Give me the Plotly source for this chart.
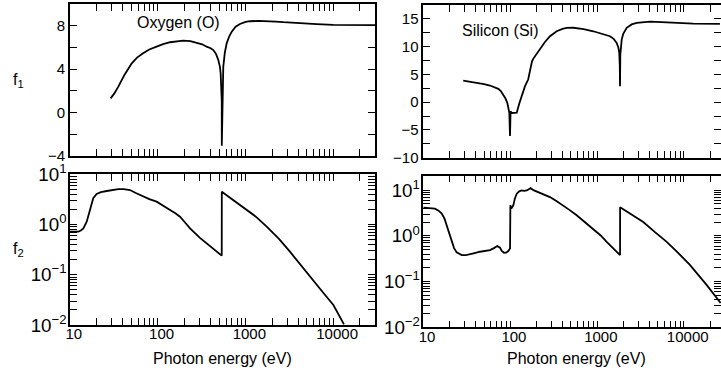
import plotly.graph_objects as go

# ---------------- data ----------------
o_f1_E = [29, 32, 35.5, 42, 50.5, 58, 68, 80, 97, 115, 138, 165, 195, 235, 277, 320, 360, 400, 429, 460, 489, 510, 520, 530, 535, 536, 545, 557, 580, 609, 650, 695, 770, 863, 1000, 1125, 1400, 1740, 2200, 2700, 4000, 6450, 10000, 15500, 30000]
o_f1_v = [1.29, 1.75, 2.37, 3.5, 4.53, 5.05, 5.45, 5.8, 6.06, 6.3, 6.47, 6.58, 6.62, 6.58, 6.43, 6.28, 6.06, 5.92, 5.75, 5.4, 4.83, 4.2, 3.6, 2.5, 1.1, -3.08, 3.0, 4.2, 5.5, 6.37, 7.0, 7.45, 7.9, 8.16, 8.35, 8.41, 8.44, 8.43, 8.38, 8.32, 8.22, 8.14, 8.08, 8.06, 8.05]

o_f2_E = [10, 11, 12.4, 13.3, 14.2, 15.5, 16.9, 18.4, 20.1, 22.5, 26.2, 30, 35.5, 41, 48.2, 57, 68, 80, 97, 115, 138, 160, 179, 200, 233, 300, 400, 511, 535, 536, 700, 942, 1300, 1740, 2400, 3200, 4300, 5900, 8000, 10000, 13200]
o_f2_v = [0.72, 0.71, 0.72, 0.76, 0.84, 1.14, 2.1, 3.33, 4.05, 4.4, 4.65, 4.85, 5.09, 5.05, 4.86, 4.2, 3.58, 3.2, 2.85, 2.4, 1.95, 1.65, 1.43, 1.15, 0.84, 0.55, 0.36, 0.247, 0.24, 4.5, 3.2, 2.26, 1.45, 0.906, 0.52, 0.288, 0.155, 0.0787, 0.04, 0.025, 0.0103]

si_f1_E = [28.8, 35, 41, 50, 58.6, 66, 73, 78, 83.3, 88, 92.6, 95, 97.7, 99.5, 101, 104, 110, 119, 127, 135, 148, 161, 167, 172, 178, 184, 200, 220, 250, 287, 343, 400, 447, 532, 700, 904, 1150, 1406, 1550, 1680, 1760, 1800, 1825, 1836, 1850, 1920, 2000, 2190, 2500, 2855, 3400, 4070, 5500, 8250, 12800, 25900]
si_f1_v = [3.9, 3.7, 3.49, 3.25, 3.0, 2.75, 2.41, 2.0, 1.38, 0.7, -0.1, -0.8, -1.9, -6.1, -1.62, -1.95, -1.95, -1.9, -0.3, 1.08, 2.88, 4.08, 5.5, 6.47, 7.3, 7.8, 8.6, 9.48, 10.8, 11.87, 12.77, 13.2, 13.38, 13.4, 13.15, 12.77, 12.35, 11.87, 11.4, 10.68, 9.8, 8.88, 6.5, 2.88, 8.5, 11.28, 12.3, 13.38, 14.0, 14.28, 14.45, 14.5, 14.42, 14.28, 14.15, 14.1]

si_f2_E = [10, 12, 13.6, 15, 16.3, 17.5, 18.6, 20, 21.2, 22.6, 24.2, 27.7, 31, 34.5, 39, 44.9, 52, 58.6, 65, 71, 76.4, 80, 84.9, 90, 95, 99.6, 100.5, 103, 108.6, 113, 119, 127, 135, 145, 155, 164, 172, 185, 202, 240, 287, 340, 408, 480, 582, 720, 904, 1100, 1290, 1550, 1838, 1840, 2500, 3400, 4600, 6330, 8500, 11700, 18200, 26400]
si_f2_v = [4.14, 4.1, 3.94, 3.55, 3.07, 2.4, 1.71, 1.05, 0.74, 0.54, 0.435, 0.38, 0.38, 0.394, 0.42, 0.449, 0.465, 0.489, 0.54, 0.597, 0.55, 0.47, 0.427, 0.43, 0.465, 0.532, 4.65, 3.94, 4.65, 6.5, 8.35, 9.4, 9.85, 9.6, 9.85, 10.5, 11.05, 10.0, 9.37, 8.3, 7.05, 5.8, 4.65, 3.7, 2.82, 2.0, 1.45, 1.02, 0.74, 0.53, 0.38, 4.2, 2.95, 2.01, 1.22, 0.74, 0.43, 0.231, 0.0848, 0.034]

# label text overrides (Plotly default text -> shown text); unlabeled ticks get ""
digit_blank = {str(d): "" for d in range(2, 10)}
x_alias = dict(digit_blank, **{"10,000": "10000", "10k": "10000"})
log_y_alias = dict(digit_blank, **{"1": "10<sup>0</sup>", "10": "10<sup>1</sup>"})
o_f1_alias = {"−2": "", "2": "", "6": "", "10": ""}
si_f1_alias = {"−7.5": "", "−2.5": "", "2.5": "", "7.5": "", "12.5": "", "17.5": ""}

# ---------------- layout geometry ----------------
W, H = 721, 372
def px(x):
    return x / W
def py(y):
    return 1 - y / H

FONT = "Liberation Sans, Arial, sans-serif"
LINE = dict(color="black", width=1.8)

fig = go.Figure()
fig.add_trace(go.Scatter(x=o_f1_E, y=o_f1_v, mode="lines", line=LINE, xaxis="x", yaxis="y"))
fig.add_trace(go.Scatter(x=o_f2_E, y=o_f2_v, mode="lines", line=LINE, xaxis="x2", yaxis="y2"))
fig.add_trace(go.Scatter(x=si_f1_E, y=si_f1_v, mode="lines", line=LINE, xaxis="x3", yaxis="y3"))
fig.add_trace(go.Scatter(x=si_f2_E, y=si_f2_v, mode="lines", line=LINE, xaxis="x4", yaxis="y4"))

common = dict(showline=True, linecolor="black", linewidth=1.6, mirror="ticks",
              ticks="inside", ticklen=7, tickwidth=1.4, tickcolor="black",
              showgrid=False, zeroline=False, automargin=False,
              tickfont=dict(family=FONT, size=15, color="black"))

left_dom = [px(70), px(375)]
right_dom = [px(423.3), 1.0]
left_rng = [1, 4.474]
right_rng = [1, 4.426]

def xax(domain, rng, anchor, labels):
    return dict(type="log", domain=domain, range=rng, anchor=anchor,
                dtick="D1", exponentformat="none", labelalias=x_alias,
                showticklabels=labels, ticklabelstandoff=-13, **common)

def ylog(domain, rng, anchor):
    return dict(type="log", domain=domain, range=rng, anchor=anchor,
                dtick="D1", exponentformat="power", labelalias=log_y_alias,
                ticklabelstandoff=-6, **common)

fig.update_layout(
    width=W, height=H,
    margin=dict(l=0, r=0, t=0, b=0, autoexpand=False),
    paper_bgcolor="white", plot_bgcolor="white",
    showlegend=False,
    font=dict(family=FONT, size=15, color="black"),
    xaxis=xax(left_dom, left_rng, "y", False),
    xaxis2=xax(left_dom, left_rng, "y2", True),
    xaxis3=xax(right_dom, right_rng, "y3", False),
    xaxis4=xax(right_dom, right_rng, "y4", True),
    yaxis=dict(domain=[py(155.7), py(4)], range=[-4, 10], anchor="x",
               dtick=2, tick0=0, labelalias=o_f1_alias, **common),
    yaxis2=ylog([py(325), py(174.3)], [-2, 1], "x2"),
    yaxis3=dict(domain=[py(157.7), py(5)], range=[-10, 17.5], anchor="x3",
                dtick=2.5, tick0=0, labelalias=si_f1_alias, **common),
    yaxis4=ylog([py(327.3), py(175.5)], [-2, 1.32], "x4"),
)

def ann(text, x, y, xanchor="center", size=16):
    fig.add_annotation(text=text, x=px(x), y=py(y), xref="paper", yref="paper",
                       xanchor=xanchor, yanchor="middle", showarrow=False,
                       font=dict(family=FONT, size=size, color="black"))

ann("f<sub>1</sub>", 18, 80)
ann("f<sub>2</sub>", 18, 250)
ann("Oxygen (O)", 135, 23, xanchor="left")
ann("Silicon (Si)", 460, 30, xanchor="left")
ann("Photon energy (eV)", 222.5, 358)
ann("Photon energy (eV)", 576, 358)

fig.write_html("out.html")
